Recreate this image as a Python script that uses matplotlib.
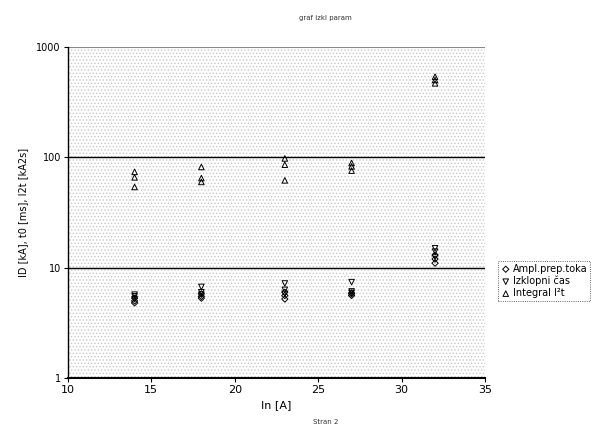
import matplotlib
matplotlib.use("Agg")
import matplotlib.pyplot as plt
import numpy as np

plt.rcParams['hatch.color'] = '#b0b0b0'
plt.rcParams['hatch.linewidth'] = 0.6

# Data
x_vals = [14, 14, 14, 18, 18, 18, 23, 23, 23, 27, 27, 27, 32, 32, 32]
ampl = [4.8, 5.0, 5.3, 5.3, 5.5, 5.8, 5.2, 5.6, 6.0, 5.6, 5.8, 5.9, 11.0, 12.0, 13.0]
izklop = [5.2, 5.5, 5.7, 5.7, 6.0, 6.7, 5.8, 6.3, 7.2, 5.9, 6.1, 7.4, 12.5, 14.0, 15.0]
integral = [54, 66, 74, 60, 65, 82, 62, 86, 98, 76, 83, 89, 470, 505, 540]

series_labels = ["Ampl.prep.toka", "Izklopni čas", "Integral I²t"]
x_ticks = [10, 15, 20, 25, 30, 35]
y_ticks = [1, 10, 100, 1000]

fig = plt.figure(figsize=(6.11, 4.37), dpi=100)
ax = fig.add_axes([0.111, 0.135, 0.683, 0.757])

ax.patch.set_facecolor('white')
ax.patch.set_hatch('.....')
ax.patch.set_edgecolor('#c8c8c8')
ax.patch.set_linewidth(0)

ax.set_yscale('log')
ax.set_xlim(10, 35)
ax.set_ylim(1, 1000)

for yv in [10, 100]:
    ax.axhline(yv, color='black', lw=1.0, zorder=1)
ax.axhline(1000, color='#888888', lw=1.5, zorder=1)

ax.scatter(x_vals, ampl, marker='D', s=10, facecolors='none', edgecolors='black', linewidths=0.7, label=series_labels[0], zorder=3)
ax.scatter(x_vals, izklop, marker='v', s=16, facecolors='none', edgecolors='black', linewidths=0.7, label=series_labels[1], zorder=3)
ax.scatter(x_vals, integral, marker='^', s=16, facecolors='none', edgecolors='black', linewidths=0.7, label=series_labels[2], zorder=3)

ax.set_xticks(x_ticks)
ax.set_xticklabels([str(t) for t in x_ticks], fontsize=8)
ax.set_yticks(y_ticks)
ax.set_yticklabels([str(t) for t in y_ticks], fontsize=7)
ax.yaxis.set_minor_locator(matplotlib.ticker.NullLocator())
ax.tick_params(axis='both', direction='out', length=3, width=0.8, pad=2)

for s in ['top', 'right']:
    ax.spines[s].set_visible(False)
ax.spines['left'].set_linewidth(1.0)
ax.spines['bottom'].set_linewidth(1.5)

ax.set_xlabel("In [A]", fontsize=8, labelpad=4)
ax.set_ylabel("ID [kA], t0 [ms], I2t [kA2s]", fontsize=7, labelpad=6)

leg = fig.legend(loc='center left', bbox_to_anchor=(0.815, 0.357), fontsize=7,
                 frameon=True, fancybox=False, edgecolor='black', handletextpad=0.2,
                 borderpad=0.3, labelspacing=0.2, handlelength=1.0, borderaxespad=0)
leg.get_frame().set_linewidth(0.6)
leg.get_frame().set_linestyle(':')

fig.text(0.533, 0.958, "graf izkl param", fontsize=5, ha='center', va='center', color='#333333')
fig.text(0.533, 0.034, "Stran 2", fontsize=5, ha='center', va='center', color='#333333')

fig.savefig("out.png", dpi=100)
